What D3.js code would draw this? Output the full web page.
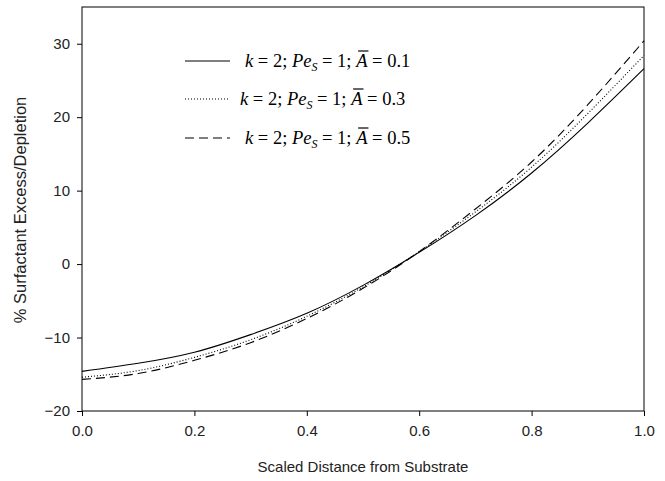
<!DOCTYPE html>
<html>
<head>
<meta charset="utf-8">
<script src="https://cdn.jsdelivr.net/npm/d3@7"></script>
<style>
	body { margin: 0; background: #fff; }
	svg { display: block; }
	.axis text { font-family: "Liberation Sans", Arial, sans-serif; font-size: 15px; fill: #222; }
	.axis path, .axis line { stroke: #000; stroke-width: 1; }
	.title { font-family: "Liberation Sans", Arial, sans-serif; fill: #222; }
	.legend text { font-family: "Liberation Serif", "Times New Roman", "DejaVu Serif", serif; font-size: 18.5px; fill: #000; }
</style>
</head>
<body>
<svg width="665" height="481"></svg>
<script>
/* DATA */
var xs = [0, 0.1, 0.2, 0.3, 0.4, 0.5, 0.6, 0.7, 0.8, 0.9, 1.0];
var a01 = [-14.6, -13.5, -12.0, -9.6, -6.7, -2.9, 1.6, 6.6, 12.4, 19.2, 26.6];
var a03 = [-15.4, -14.5, -12.7, -10.3, -7.1, -3.1, 1.7, 7.1, 13.2, 20.5, 28.4];
var a05 = [-15.7, -14.9, -13.1, -10.7, -7.4, -3.3, 1.7, 7.5, 13.9, 21.7, 30.4];
var aBars = ["0.1", "0.3", "0.5"];
var xTicks = [0, 0.2, 0.4, 0.6, 0.8, 1.0];
var yTicks = [-20, -10, 0, 10, 20, 30];

var series = [
	{ abar: aBars[0], values: a01, dash: null },
	{ abar: aBars[1], values: a03, dash: "1,2" },
	{ abar: aBars[2], values: a05, dash: "9,5" }
];

/* SVG */
var svg = d3.select("svg");
var margin = { top: 7, right: 21, bottom: 70, left: 82 };
var width = 665 - margin.left - margin.right;
var height = 481 - margin.top - margin.bottom;
var g = svg.append("g").attr("transform", `translate(${margin.left},${margin.top})`);

/* SCALES */
var x = d3.scaleLinear().domain([0, 1]).range([0, width]);
var y = d3.scaleLinear().domain([-20, 35]).range([height, 0]);

/* AXES */
g.append("g")
	.attr("class", "axis")
	.attr("transform", `translate(0,${height})`)
	.call(d3.axisBottom(x).tickValues(xTicks).tickFormat(d3.format(".1f")).tickSize(5).tickPadding(9))
	.select(".domain").remove();

g.append("g")
	.attr("class", "axis")
	.call(d3.axisLeft(y).tickValues(yTicks).tickFormat(d3.format("d")).tickSize(5).tickPadding(7))
	.select(".domain").remove();

// frame
g.append("rect")
	.attr("width", width)
	.attr("height", height)
	.attr("fill", "none")
	.attr("stroke", "#000")
	.attr("stroke-width", 1);

/* TITLES */
svg.append("text")
	.attr("class", "title")
	.attr("x", margin.left + width / 2)
	.attr("y", 472)
	.attr("text-anchor", "middle")
	.attr("font-size", "15px")
	.text("Scaled Distance from Substrate");

svg.append("text")
	.attr("class", "title")
	.attr("transform", "translate(26,210) rotate(-90)")
	.attr("text-anchor", "middle")
	.attr("font-size", "16.5px")
	.text("% Surfactant Excess/Depletion");

/* LINES */
var line = d3.line()
	.x(function (d, i) { return x(xs[i]); })
	.y(function (d) { return y(d); })
	.curve(d3.curveNatural);

g.selectAll(".curve")
	.data(series)
	.enter()
	.append("path")
	.attr("class", "curve")
	.attr("d", function (d) { return line(d.values); })
	.attr("fill", "none")
	.attr("stroke", "#000")
	.attr("stroke-width", 1.1)
	.attr("stroke-dasharray", function (d) { return d.dash; });

/* LEGEND */
var legendY = [61, 99, 138];
var textX = [245, 240, 245];
var legend = svg.append("g").attr("class", "legend");

series.forEach(function (s, i) {
	var ly = legendY[i];
	legend.append("line")
		.attr("x1", 185).attr("x2", 230)
		.attr("y1", ly).attr("y2", ly)
		.attr("stroke", "#000")
		.attr("stroke-width", 1.1)
		.attr("stroke-dasharray", s.dash);

	var t = legend.append("text")
		.attr("x", textX[i])
		.attr("y", ly + 6)
		.attr("xml:space", "preserve");
	t.append("tspan").attr("font-style", "italic").text("k");
	t.append("tspan").text(" = 2; ");
	t.append("tspan").attr("font-style", "italic").text("Pe");
	t.append("tspan").attr("font-style", "italic").attr("font-size", "12px").attr("dy", 4).text("S");
	t.append("tspan").attr("dy", -4).text(" = 1; ");
	var aSpan = t.append("tspan").attr("font-style", "italic").text("A");
	t.append("tspan").text(" = " + s.abar);

	// overbar on A
	var ext = aSpan.node().getExtentOfChar(0);
	legend.append("line")
		.attr("x1", ext.x + 2).attr("x2", ext.x + ext.width + 1)
		.attr("y1", ly - 10).attr("y2", ly - 10)
		.attr("stroke", "#000")
		.attr("stroke-width", 1.2);
});
</script>
</body>
</html>
